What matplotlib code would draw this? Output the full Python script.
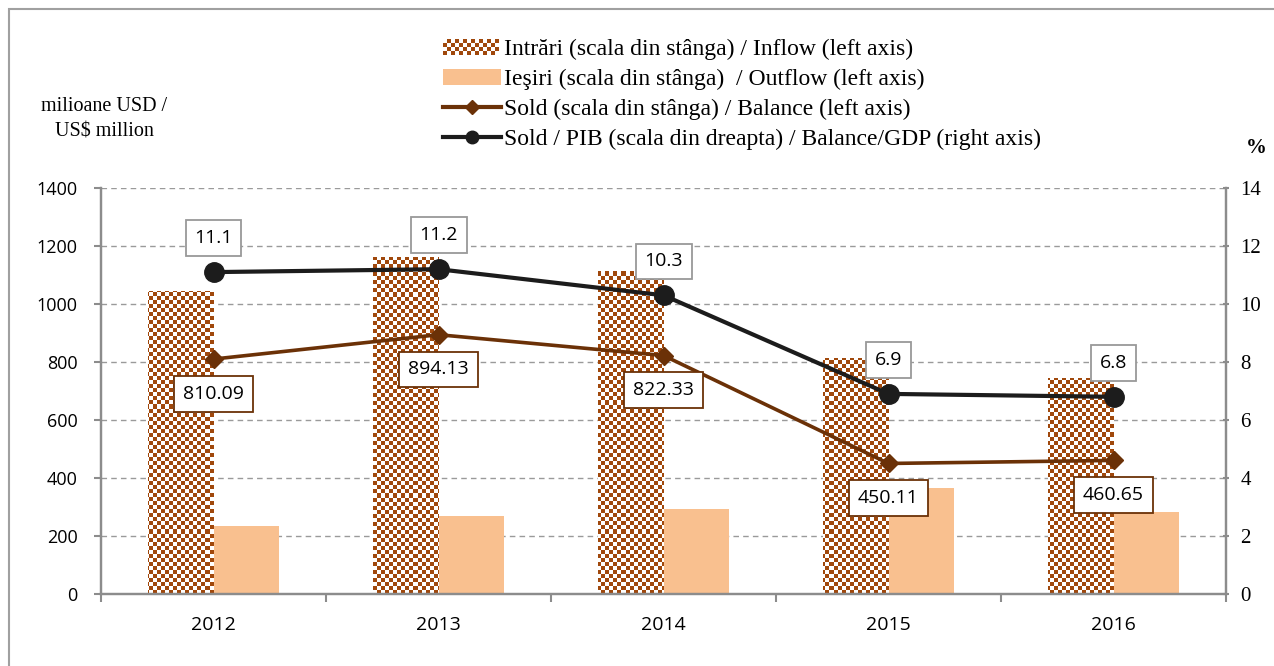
import matplotlib.pyplot as plt
import numpy as np
from matplotlib.colors import ListedColormap
from matplotlib.lines import Line2D
from matplotlib.patches import Patch, Rectangle
from matplotlib.legend_handler import HandlerBase

years = ["2012", "2013", "2014", "2015", "2016"]
inflow = [1045, 1162, 1114, 815, 745]
outflow = [235, 268, 292, 365, 284]
balance = [810.09, 894.13, 822.33, 450.11, 460.65]
balance_gdp = [11.1, 11.2, 10.3, 6.9, 6.8]
left_ticks = [0, 200, 400, 600, 800, 1000, 1200, 1400]
right_ticks = [0, 2, 4, 6, 8, 10, 12, 14]

BROWN = '#A0480C'
LINE_BROWN = '#6B3107'
PEACH = '#F9C08F'
DARK = '#1c1c1c'
GREY = '#8c8c8c'
SERIF = 'Liberation Serif'
SANS = 'Open Sans'


class CheckerHandler(HandlerBase):
    # draws a small checkerboard as the legend key
    def create_artists(self, legend, orig_handle, xdescent, ydescent,
                       width, height, fontsize, trans):
        cell = 2.9
        nx = int(width / cell)
        ny = int(height / cell)
        arts = []
        for i in range(nx):
            for j in range(ny):
                if (i + j) % 2 == 0:
                    r = Rectangle((-xdescent + i * cell, -ydescent + j * cell),
                                  cell, cell, facecolor=BROWN, edgecolor='none',
                                  transform=trans)
                    arts.append(r)
        return arts


fig = plt.figure(figsize=(12.74, 6.66), dpi=100)
W, H = 1274, 666
ax = fig.add_axes([101 / W, 1 - 594 / H, (1226 - 101) / W, (594 - 188) / H])
ax2 = ax.twinx()

x = np.arange(len(years))
bw = 0.29
bars_in = ax.bar(x - bw / 2, inflow, bw, color='none', edgecolor='none', zorder=2)
ax.bar(x + bw / 2, outflow, bw, color=PEACH, edgecolor='none', zorder=2)

# checkerboard texture clipped to each inflow bar (about 4 px cells)
ncol = int(1125 / 4)
nrow = int(406 / 4)
checker = (np.add.outer(np.arange(nrow), np.arange(ncol)) % 2)
cmap = ListedColormap(['white', BROWN])
for b in bars_in:
    im = ax.imshow(checker, extent=[-0.5, len(years) - 0.5, 0, 1400], aspect='auto',
                   interpolation='none', cmap=cmap, zorder=2)
    im.set_clip_path(b)
ax.set_xlim(-0.5, len(years) - 0.5)
ax.set_ylim(0, 1400)

ax.plot(x, balance, color=LINE_BROWN, lw=2.6, marker='D', ms=9, zorder=4)
ax2.plot(x, balance_gdp, color=DARK, lw=3, marker='o', ms=14, zorder=4)
ax2.set_ylim(0, 14)

for xi, v in zip(x, balance):
    ax.annotate(f"{v:.2f}", (xi, v), xytext=(0, -25), textcoords='offset points',
                ha='center', va='center', fontsize=14, family=SANS, zorder=6,
                bbox=dict(boxstyle='square,pad=0.45', fc='white', ec=LINE_BROWN, lw=1.3))
for xi, v in zip(x, balance_gdp):
    ax2.annotate(f"{v:.1f}", (xi, v), xytext=(0, 24.5), textcoords='offset points',
                 ha='center', va='center', fontsize=14, family=SANS, zorder=6,
                 bbox=dict(boxstyle='square,pad=0.45', fc='white', ec='#999999', lw=1.3))

# axes styling
ax.set_yticks(left_ticks)
ax.set_yticklabels([str(t) for t in left_ticks], family=SANS, fontsize=13)
ax2.set_yticks(right_ticks)
ax2.set_yticklabels([str(t) for t in right_ticks], family=SERIF, fontsize=15)
ax.yaxis.grid(True, linestyle=(0, (4, 3)), color='#9a9a9a', lw=1)
ax.set_axisbelow(True)

ax.set_xticks(np.arange(len(years) + 1) - 0.5)
ax.set_xticklabels([])
ax.set_xticks(x, minor=True)
ax.set_xticklabels(years, minor=True, family=SANS, fontsize=14)
ax.tick_params(axis='x', which='major', length=6, color=GREY, width=1.5)
ax.tick_params(axis='x', which='minor', length=0, pad=16)
ax.tick_params(axis='y', length=5, color=GREY, width=1.5, pad=12)
ax2.tick_params(axis='y', length=5, color=GREY, width=1.5, direction='inout', pad=8)

for a in (ax, ax2):
    a.spines['top'].set_visible(False)
    for s in ('left', 'right', 'bottom'):
        a.spines[s].set_color(GREY)
        a.spines[s].set_linewidth(1.6)

# legend
handles = [
    Patch(facecolor=BROWN),
    Patch(facecolor=PEACH, edgecolor='none'),
    Line2D([], [], color=LINE_BROWN, lw=3, marker='D', ms=7),
    Line2D([], [], color=DARK, lw=3, marker='o', ms=9),
]
labels = [
    "Intrări (scala din stânga) / Inflow (left axis)",
    "Ieşiri (scala din stânga)  / Outflow (left axis)",
    "Sold (scala din stânga) / Balance (left axis)",
    "Sold / PIB (scala din dreapta) / Balance/GDP (right axis)",
]
fig.legend(handles, labels, loc='upper left', bbox_to_anchor=(431 / W, 1 - 27 / H),
           frameon=False, prop={'family': SERIF, 'size': 17},
           handler_map={handles[0]: CheckerHandler()},
           handlelength=2.45, handleheight=0.7, handletextpad=0.15,
           labelspacing=0.36, borderpad=0)

fig.text(104 / W, 1 - 119 / H, "milioane USD /\nUS$ million", ha='center', va='center',
         family=SERIF, fontsize=14.5, linespacing=1.45)
fig.text(1256 / W, 1 - 148 / H, "%", ha='center', va='center', family=SERIF,
         fontsize=15, fontweight='bold')

# outer frame
fig.patches.append(Rectangle((9 / W, -0.1), 1.2, 1 - 9 / H + 0.1, transform=fig.transFigure,
                             fill=False, edgecolor='#a0a0a0', lw=1.5))

fig.savefig('out.png', dpi=100)
